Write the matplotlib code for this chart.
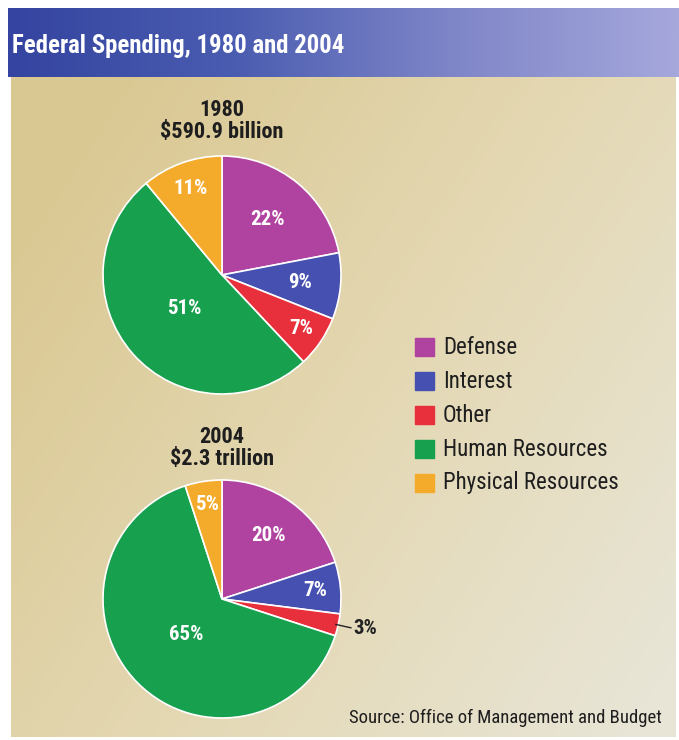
import numpy as np
import matplotlib.pyplot as plt
from matplotlib.colors import LinearSegmentedColormap

# data
categories = ["Defense", "Interest", "Other", "Human Resources", "Physical Resources"]
colors = ["#b0439f", "#4650b0", "#e8303c", "#17a04e", "#f4ab2c"]
shares_1980 = [22, 9, 7, 51, 11]
shares_2004 = [20, 7, 3, 65, 5]
title_1980 = "1980\n$590.9 billion"
title_2004 = "2004\n$2.3 trillion"

# how far from the centre each percent label sits (fraction of radius)
lbl_dist_1980 = [0.6, 0.66, 0.8, 0.42, 0.77]
lbl_dist_2004 = [0.66, 0.79, None, 0.42, 0.8]

W, H = 679, 740
FONT = ["Roboto Condensed", "Liberation Sans Narrow", "DejaVu Sans"]
plt.rcParams["font.family"] = FONT
plt.rcParams["font.stretch"] = "condensed"

fig = plt.figure(figsize=(W / 100, H / 100), dpi=100)
ax = fig.add_axes([0, 0, 1, 1])
fig.patch.set_facecolor("white")

# beige background, tan on the left fading to cream at bottom right
yy, xx = np.mgrid[0:1:200j, 0:1:200j]
t = np.clip(0.7 * (1 - xx) + 0.45 * (1 - yy) - 0.05, 0, 1)
bg = LinearSegmentedColormap.from_list("bg", ["#e8e5d6", "#e4d8b3", "#dac892"])
ax.imshow(bg(t), extent=[11, W - 3, 3, H - 77], aspect="auto", zorder=0)

# title bar gradient
grad = np.linspace(0, 1, 256).reshape(1, -1)
bar = LinearSegmentedColormap.from_list("bar", ["#3444a0", "#4a5cb0", "#7f86c8", "#a6a8dc"])
ax.imshow(bar(grad), extent=[8, W, H - 77, H - 8], aspect="auto", zorder=1)
ax.text(12, H - 46, "Federal Spending, 1980 and 2004", color="white",
        fontsize=17.8, fontweight="bold", va="center", ha="left", zorder=2)


def draw_pie(vals, cx, cy, r, dists, head, head_off):
    wedges, _ = ax.pie(vals, colors=colors, startangle=90, counterclock=False,
                       center=(cx, cy), radius=r, frame=True,
                       wedgeprops=dict(edgecolor="white", linewidth=1.2))
    for w, v, d in zip(wedges, vals, dists):
        w.set_zorder(3)
        mid = np.deg2rad((w.theta1 + w.theta2) / 2)
        if d is None:
            # small slice: label outside with a leader line
            x0, y0 = cx + r * 0.98 * np.cos(mid), cy + r * 0.98 * np.sin(mid)
            x1, y1 = cx + r * 1.11 * np.cos(mid), cy + r * 1.11 * np.sin(mid)
            ax.plot([x0, x1], [y0, y1], color="#222222", lw=1, zorder=4)
            ax.text(x1 + 2, y1 - 1, f"{v}%", fontsize=15, fontweight="bold",
                    color="#222222", ha="left", va="center", zorder=4)
        else:
            ax.text(cx + r * d * np.cos(mid), cy + r * d * np.sin(mid), f"{v}%",
                    fontsize=15, fontweight="bold", color="white",
                    ha="center", va="center", zorder=4)
    ax.text(cx, cy + r + head_off, head, fontsize=16, fontweight="bold",
            color="#1e1e1e", ha="center", va="center", linespacing=1.05, zorder=4)


draw_pie(shares_1980, 222, H - 275, 119, lbl_dist_1980, title_1980, 35)
draw_pie(shares_2004, 222, H - 599, 119, lbl_dist_2004, title_2004, 32)
ax.set_xlim(0, W)
ax.set_ylim(0, H)
ax.set_aspect("equal")
ax.axis("off")

# legend
for i, (name, c) in enumerate(zip(categories, colors)):
    y = H - 347 - i * 34
    ax.add_patch(plt.Rectangle((415, y - 9), 19, 18, color=c, zorder=3))
    ax.text(443, y, name, fontsize=16.5, color="#1e1e1e", va="center", ha="left", zorder=3)

ax.text(662, H - 718, "Source: Office of Management and Budget", fontsize=13.5,
        color="#1e1e1e", ha="right", va="center", zorder=3)

fig.savefig("out.png", dpi=100)
